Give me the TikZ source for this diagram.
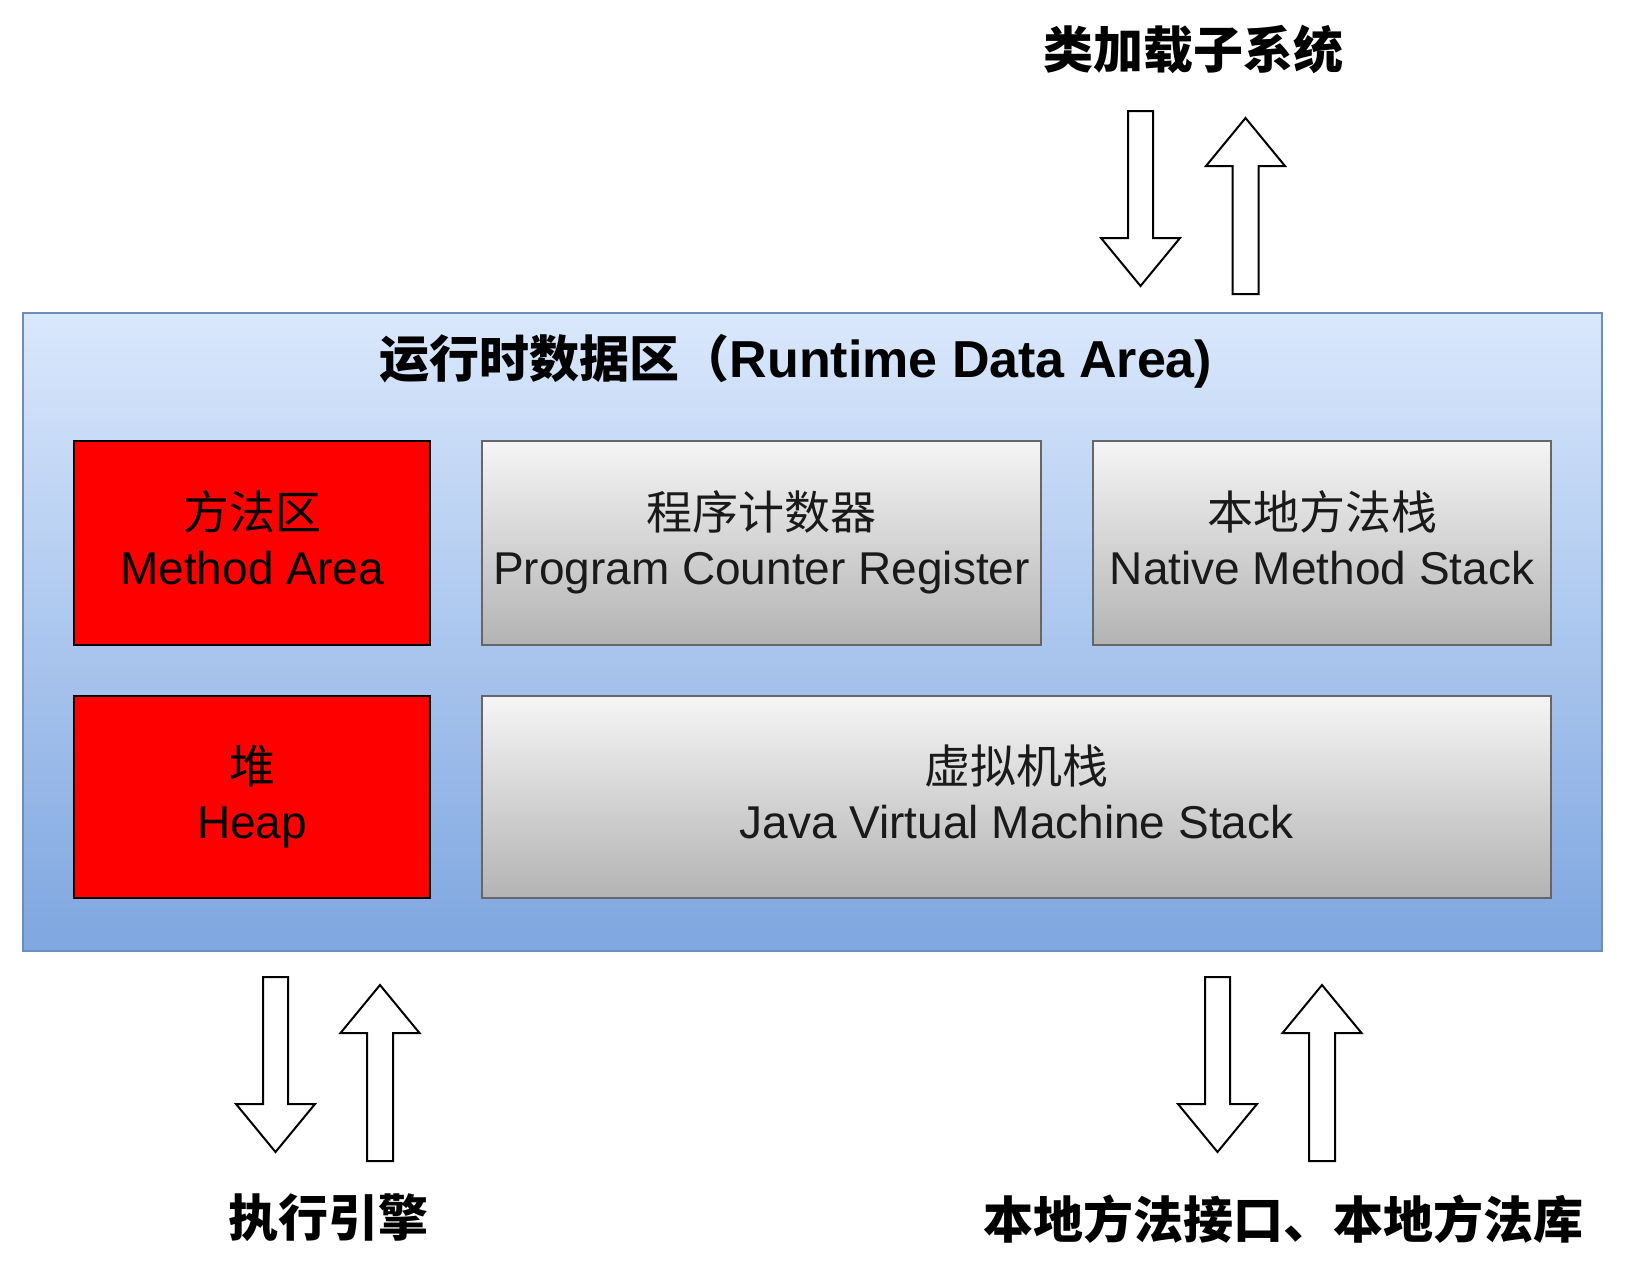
\documentclass[tikz,border=0pt]{standalone}
\usepackage{fontspec}
\setmainfont{Liberation Sans}
\newfontfamily\cjk{Noto Sans CJK SC}
\definecolor{rdatop}{HTML}{DAE8FC}
\definecolor{rdabot}{HTML}{7EA6E0}
\definecolor{rdaline}{HTML}{6C8EBF}
\definecolor{graytop}{HTML}{F5F5F5}
\definecolor{graybot}{HTML}{B3B3B3}
\definecolor{grayline}{HTML}{666666}
\definecolor{textgray}{HTML}{1A1A1A}
\newcommand\boxtxt[2]{\raisebox{-3pt}[\height][\depth]{\begin{tabular}{@{}c@{}}{\cjk #1}\\#2\end{tabular}}}
\tikzset{
  areabox/.style={rectangle, inner sep=0pt, draw=rdaline, line width=2pt, top color=rdatop, bottom color=rdabot},
  redbox/.style={rectangle, inner sep=0pt, draw=black, line width=2.5pt, fill=red, text=black,
    font=\fontsize{46}{55}\selectfont},
  graybox/.style={rectangle, inner sep=0pt, draw=grayline, line width=2pt, top color=graytop, bottom color=graybot,
    text=textgray, font=\fontsize{46}{55}\selectfont},
  boldlabel/.style={inner sep=0pt, font=\cjk\bfseries\fontsize{50}{58}\selectfont},
  blockarrow/.style={draw=black, fill=white, line width=2pt, line join=miter},
  downarr/.pic={\draw[blockarrow] (-12.5,0) -- (12.5,0) -- (12.5,127) -- (39.5,127) -- (0,175) -- (-39.5,127) -- (-12.5,127) -- cycle;},
  uparr/.pic={\draw[blockarrow] (-13,0) -- (13,0) -- (13,-128) -- (39.5,-128) -- (0,-176) -- (-39.5,-128) -- (-13,-128) -- cycle;}
}
\begin{document}
\begin{tikzpicture}[x=1pt,y=-1pt]
\useasboundingbox[fill=white] (0,0) rectangle (1638,1262);
% runtime data area
\node[areabox, minimum width=1579, minimum height=638] (rda) at (812.5,632) {};
\node[inner sep=0pt, font=\bfseries\fontsize{50}{58}\selectfont] (title) at (796,361)
  {{\cjk 运行时数据区（}{\fontsize{52}{58}\selectfont Runtime Data Area)}};
% inner boxes
\node[redbox, minimum width=356, minimum height=204] (ma) at (252,543) {\boxtxt{方法区}{Method Area}};
\node[graybox, minimum width=559, minimum height=204] (pc) at (761.5,543) {\boxtxt{程序计数器}{Program Counter Register}};
\node[graybox, minimum width=458, minimum height=204] (nms) at (1322,543) {\boxtxt{本地方法栈}{Native Method Stack}};
\node[redbox, minimum width=356, minimum height=202] (heap) at (252,797) {\boxtxt{堆}{Heap}};
\node[graybox, minimum width=1069, minimum height=202] (jvms) at (1016.5,797) {\boxtxt{虚拟机栈}{Java Virtual Machine Stack}};
% labels
\node[boldlabel] (cls) at (1193,49) {类加载子系统};
\node[boldlabel] (exe) at (328,1218) {执行引擎};
\node[boldlabel] (nat) at (1283,1219) {本地方法接口、本地方法库};
% block arrows
\pic at (1140.5,111) {downarr};
\pic at (1245.5,294) {uparr};
\pic at (275.5,977) {downarr};
\pic at (380,1161) {uparr};
\pic at (1217.5,977) {downarr};
\pic at (1322,1161) {uparr};
\end{tikzpicture}
\end{document}
